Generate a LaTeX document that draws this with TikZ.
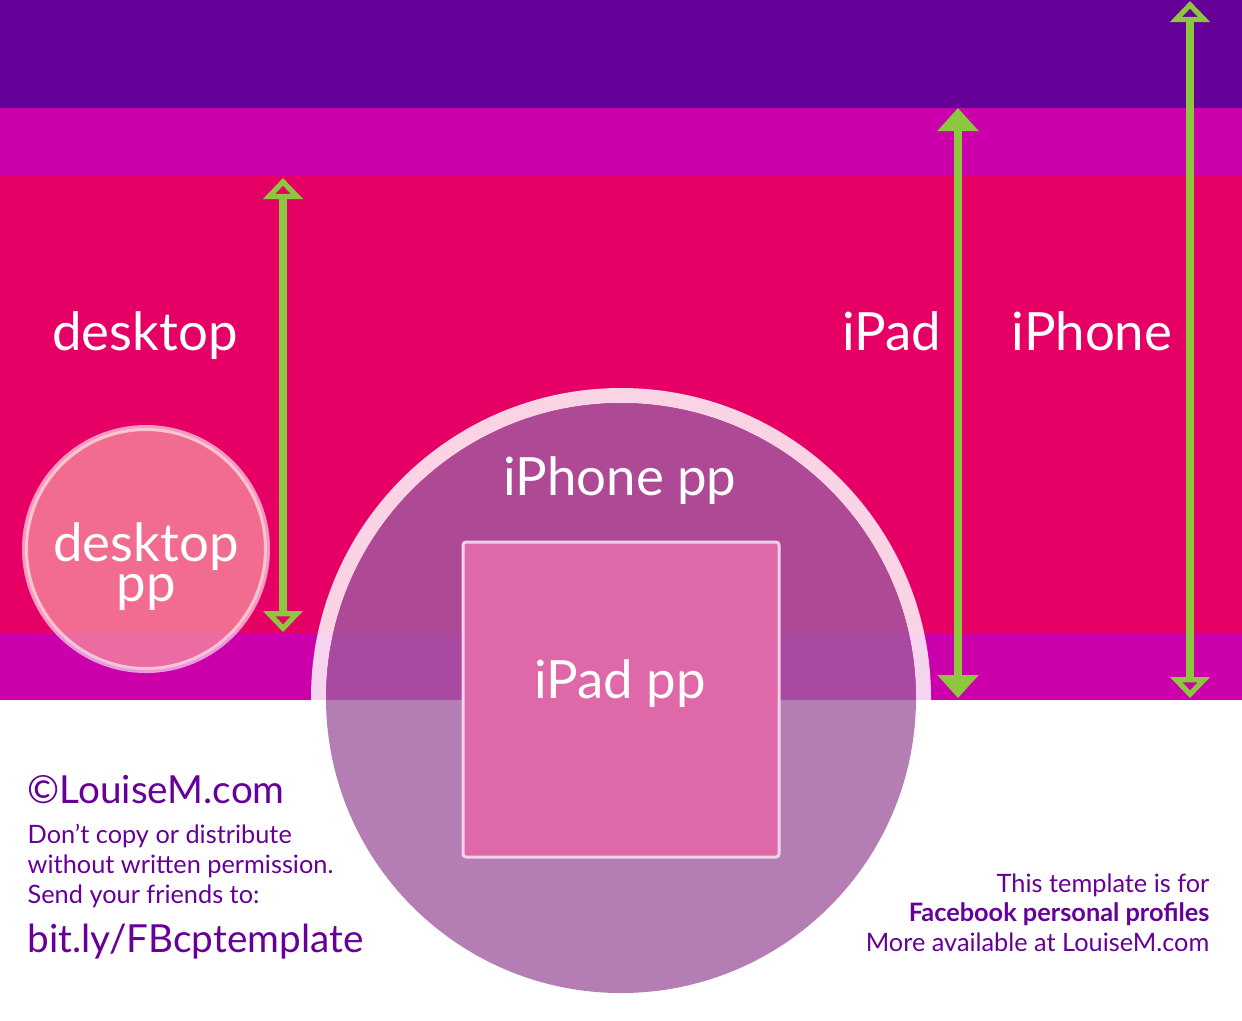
\documentclass[tikz,border=0pt]{standalone}
\usepackage{fontspec}
\setmainfont{Lato}
\usetikzlibrary{arrows.meta}
\definecolor{topband}{RGB}{101,0,153}
\definecolor{midband}{RGB}{204,0,170}
\definecolor{coverpink}{RGB}{230,0,102}
\definecolor{arrowgreen}{RGB}{141,198,63}
\definecolor{ppurple}{RGB}{161,92,161}
\definecolor{padpink}{RGB}{222,104,168}
\definecolor{padedge}{RGB}{242,210,234}
\definecolor{deskpink}{RGB}{247,154,160}
\definecolor{textpurple}{RGB}{102,0,153}
\tikzset{
  big/.style={text=white,font=\fontsize{15}{10.3}\selectfont},
  mid/.style={text=textpurple,font=\fontsize{11}{11}\selectfont},
  note/.style={text=textpurple,font=\fontsize{7.2}{8.5}\selectfont},
  measure/.style={draw=arrowgreen,line width=0.08cm},
  opentip/.style={measure,{Triangle[open,length=0.21cm,width=0.39cm]}-{Triangle[open,length=0.21cm,width=0.39cm]}},
  filltip/.style={measure,{Triangle[length=0.23cm,width=0.4cm]}-{Triangle[length=0.23cm,width=0.4cm]}},
}
\begin{document}
\begin{tikzpicture}[x=0.01cm,y=-0.01cm]
  \useasboundingbox (0,0) rectangle (1242,1020);
  % bands
  \fill[topband] (0,0) rectangle (1242,108);
  \fill[midband] (0,108) rectangle (1242,175);
  \fill[coverpink] (0,175) rectangle (1242,633);
  \fill[midband] (0,633) rectangle (1242,700);
  % profile pictures
  \fill[white,opacity=0.83,even odd rule] (621,698) circle (310) (621,698) circle (295);
  \fill[ppurple,opacity=0.8] (621,698) circle (295);
  \draw[padedge,fill=padpink,line width=0.03cm,rounded corners=0.03cm]
    (463,542) rectangle (779,857);
  \fill[deskpink,opacity=0.7] (146,549) circle (121);
  \draw[white,opacity=0.6,line width=0.06cm] (146,549) circle (121);
  % measures
  \coordinate (desk hi) at (283,178);
  \coordinate (desk lo) at (283,632);
  \coordinate (pad hi) at (958,108);
  \coordinate (pad lo) at (958,698);
  \coordinate (phone hi) at (1190,1);
  \coordinate (phone lo) at (1190,698);
  \draw[opentip] (desk hi) -- (desk lo);
  \draw[filltip] (pad hi) -- (pad lo);
  \draw[opentip] (phone hi) -- (phone lo);
  % labels
  \node[big,anchor=base] (desk) at (145,350) {desktop};
  \node[big,anchor=base] (pad) at (892,350) {iPad};
  \node[big,anchor=base] (phone) at (1092,350) {iPhone};
  \node[big,anchor=base] (phone pp) at (620,495) {iPhone pp};
  \node[big,anchor=base] (pad pp) at (620,698) {iPad pp};
  \node[big,align=center,anchor=base] (desk pp) at (146,601) {desktop\\pp};
  % credits
  \node[mid,anchor=base west,inner sep=0] (site) at (27,803) {©LouiseM.com};
  \node[note,anchor=base west,inner sep=0] (warn1) at (27,843) {Don’t copy or distribute};
  \node[note,anchor=base west,inner sep=0] (warn2) at (27,873) {without written permission.};
  \node[note,anchor=base west,inner sep=0] (warn3) at (27,903) {Send your friends to:};
  \node[mid,anchor=base west,inner sep=0] (link) at (27,952) {bit.ly/FBcptemplate};
  \node[note,anchor=base east,inner sep=0] (info1) at (1210,892) {This template is for};
  \node[note,anchor=base east,inner sep=0] (info2) at (1210,921) {\bfseries Facebook personal profiles};
  \node[note,anchor=base east,inner sep=0] (info3) at (1210,951) {More available at LouiseM.com};
\end{tikzpicture}
\end{document}
